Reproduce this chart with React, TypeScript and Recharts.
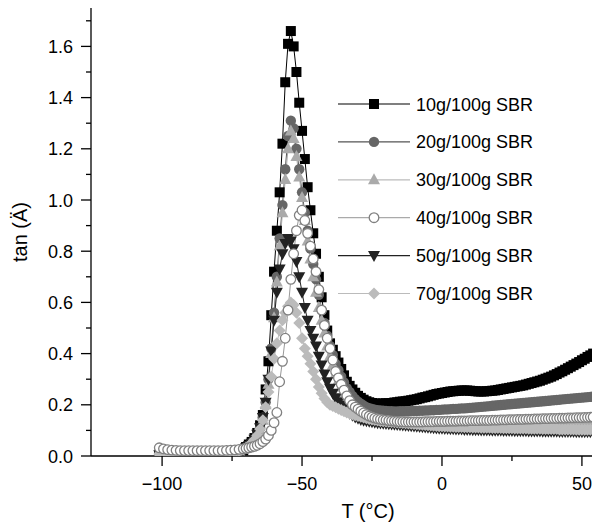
import { LineChart, Line, XAxis, YAxis } from 'recharts';

// temperature grid (°C): 1.5° steps on the glassy plateau, 1° steps from -70 on
const TEMPS = [
  -101, -99.5, -98, -96.5, -95, -93.5, -92, -90.5, -89, -87.5, -86, -84.5, -83, -81.5, -80, -78.5, -77, -75.5, -74, -72.5, -71,
  -70, -69, -68, -67, -66, -65, -64, -63, -62, -61, -60, -59, -58, -57, -56, -55, -54, -53, -52, -51, -50, -49, -48, -47, -46, -45, -44, -43, -42, -41, -40,
  -39, -38, -37, -36, -35, -34, -33, -32, -31, -30,
  -29, -28, -27, -26, -25, -24, -23, -22, -21, -20,
  -19, -18, -17, -16, -15, -14, -13, -12, -11, -10,
  -9, -8, -7, -6, -5, -4, -3, -2, -1, 0,
  1, 2, 3, 4, 5, 6, 7, 8, 9, 10,
  11, 12, 13, 14, 15, 16, 17, 18, 19, 20,
  21, 22, 23, 24, 25, 26, 27, 28, 29, 30,
  31, 32, 33, 34, 35, 36, 37, 38, 39, 40,
  41, 42, 43, 44, 45, 46, 47, 48, 49, 50,
  51, 52, 53, 54,
];

// tan values
const TAN_10 = [
  0.005, 0.005, 0.005, 0.005, 0.005, 0.005, 0.005, 0.005, 0.005, 0.005, 0.005, 0.005, 0.005, 0.005, 0.005, 0.006, 0.007, 0.009, 0.012, 0.016, 0.022,
  0.035, 0.045, 0.055, 0.07, 0.09, 0.12, 0.16, 0.26, 0.37, 0.55, 0.72, 0.88, 1.03, 1.22, 1.46, 1.61, 1.66, 1.6, 1.5, 1.38, 1.27, 1.16, 1.05, 0.96, 0.87, 0.79, 0.7, 0.62, 0.55, 0.49, 0.44,
  0.415, 0.39, 0.365, 0.34, 0.315, 0.29, 0.274, 0.26, 0.247, 0.235,
  0.227, 0.22, 0.214, 0.21, 0.207, 0.205, 0.204, 0.205, 0.205, 0.206,
  0.206, 0.207, 0.209, 0.21, 0.212, 0.213, 0.214, 0.216, 0.218, 0.22,
  0.222, 0.225, 0.228, 0.23, 0.233, 0.236, 0.239, 0.242, 0.244, 0.246,
  0.248, 0.25, 0.252, 0.253, 0.254, 0.255, 0.256, 0.256, 0.256, 0.255,
  0.254, 0.253, 0.252, 0.252, 0.252, 0.253, 0.254, 0.255, 0.256, 0.258,
  0.26, 0.262, 0.264, 0.266, 0.268, 0.27, 0.272, 0.274, 0.276, 0.279,
  0.282, 0.285, 0.288, 0.291, 0.294, 0.298, 0.302, 0.306, 0.31, 0.315,
  0.32, 0.326, 0.331, 0.337, 0.343, 0.349, 0.355, 0.361, 0.367, 0.374,
  0.38, 0.387, 0.393, 0.4,
];
const TAN_20 = [
  0.008, 0.008, 0.008, 0.008, 0.008, 0.008, 0.008, 0.008, 0.008, 0.008, 0.008, 0.008, 0.008, 0.008, 0.008, 0.009, 0.01, 0.012, 0.015, 0.019, 0.025,
  0.033, 0.042, 0.052, 0.066, 0.085, 0.11, 0.15, 0.21, 0.3, 0.42, 0.56, 0.7, 0.85, 0.98, 1.12, 1.25, 1.31, 1.28, 1.2, 1.12, 1.03, 0.95, 0.88, 0.81, 0.75, 0.69, 0.63, 0.57, 0.52, 0.47, 0.43,
  0.395, 0.36, 0.335, 0.31, 0.287, 0.265, 0.25, 0.235, 0.222, 0.212,
  0.204, 0.197, 0.191, 0.187, 0.184, 0.181, 0.179, 0.178, 0.177, 0.176,
  0.175, 0.175, 0.174, 0.174, 0.175, 0.175, 0.175, 0.175, 0.176, 0.176,
  0.176, 0.177, 0.177, 0.178, 0.178, 0.179, 0.179, 0.18, 0.18, 0.181,
  0.182, 0.182, 0.183, 0.184, 0.184, 0.185, 0.186, 0.186, 0.187, 0.188,
  0.189, 0.19, 0.191, 0.192, 0.193, 0.194, 0.195, 0.196, 0.197, 0.198,
  0.199, 0.2, 0.201, 0.202, 0.203, 0.204, 0.205, 0.206, 0.207, 0.208,
  0.209, 0.21, 0.211, 0.212, 0.213, 0.214, 0.215, 0.216, 0.217, 0.218,
  0.219, 0.22, 0.221, 0.222, 0.223, 0.224, 0.225, 0.226, 0.227, 0.228,
  0.229, 0.23, 0.231, 0.232,
];
const TAN_30 = [
  0.01, 0.01, 0.01, 0.01, 0.01, 0.01, 0.01, 0.01, 0.01, 0.01, 0.01, 0.01, 0.01, 0.01, 0.01, 0.011, 0.012, 0.013, 0.016, 0.02, 0.026,
  0.032, 0.04, 0.05, 0.063, 0.08, 0.1, 0.14, 0.2, 0.28, 0.4, 0.54, 0.68, 0.82, 0.95, 1.08, 1.2, 1.27, 1.24, 1.17, 1.09, 1.01, 0.92, 0.84, 0.77, 0.7, 0.64, 0.58, 0.53, 0.48, 0.43, 0.39,
  0.355, 0.32, 0.295, 0.27, 0.248, 0.228, 0.212, 0.198, 0.186, 0.176,
  0.168, 0.161, 0.155, 0.15, 0.146, 0.142, 0.139, 0.137, 0.135, 0.133,
  0.132, 0.131, 0.13, 0.129, 0.129, 0.128, 0.128, 0.127, 0.127, 0.127,
  0.126, 0.126, 0.126, 0.126, 0.126, 0.126, 0.126, 0.126, 0.126, 0.126,
  0.126, 0.126, 0.127, 0.127, 0.127, 0.127, 0.127, 0.127, 0.128, 0.128,
  0.128, 0.128, 0.128, 0.128, 0.129, 0.129, 0.129, 0.129, 0.129, 0.13,
  0.13, 0.13, 0.13, 0.13, 0.131, 0.131, 0.131, 0.131, 0.131, 0.132,
  0.132, 0.132, 0.132, 0.132, 0.133, 0.133, 0.133, 0.133, 0.133, 0.134,
  0.134, 0.134, 0.134, 0.134, 0.135, 0.135, 0.135, 0.135, 0.135, 0.136,
  0.136, 0.136, 0.136, 0.137,
];
const TAN_40 = [
  0.032, 0.028, 0.025, 0.023, 0.022, 0.021, 0.021, 0.021, 0.021, 0.021, 0.021, 0.021, 0.021, 0.021, 0.021, 0.021, 0.022, 0.023, 0.024, 0.026, 0.028,
  0.03, 0.032, 0.035, 0.038, 0.042, 0.048, 0.056, 0.066, 0.08, 0.1, 0.13, 0.17, 0.29, 0.37, 0.46, 0.57, 0.69, 0.79, 0.88, 0.94, 0.96, 0.92, 0.87, 0.82, 0.77, 0.72, 0.65, 0.57, 0.51, 0.46, 0.42,
  0.375, 0.33, 0.305, 0.28, 0.257, 0.235, 0.216, 0.2, 0.191, 0.183,
  0.175, 0.168, 0.162, 0.156, 0.152, 0.148, 0.145, 0.143, 0.141, 0.14,
  0.138, 0.137, 0.136, 0.135, 0.134, 0.134, 0.133, 0.133, 0.133, 0.133,
  0.133, 0.133, 0.133, 0.134, 0.134, 0.134, 0.134, 0.135, 0.135, 0.135,
  0.135, 0.136, 0.136, 0.136, 0.136, 0.137, 0.137, 0.137, 0.137, 0.138,
  0.138, 0.138, 0.138, 0.139, 0.139, 0.139, 0.139, 0.14, 0.14, 0.14,
  0.141, 0.141, 0.141, 0.142, 0.142, 0.142, 0.143, 0.143, 0.143, 0.144,
  0.144, 0.144, 0.145, 0.145, 0.145, 0.146, 0.146, 0.146, 0.147, 0.147,
  0.147, 0.148, 0.148, 0.148, 0.149, 0.149, 0.149, 0.15, 0.15, 0.15,
  0.151, 0.151, 0.152, 0.152,
];
const TAN_50 = [
  0.005, 0.005, 0.005, 0.005, 0.005, 0.005, 0.005, 0.005, 0.005, 0.005, 0.005, 0.005, 0.005, 0.005, 0.005, 0.006, 0.007, 0.009, 0.012, 0.017, 0.024,
  0.032, 0.04, 0.05, 0.065, 0.085, 0.11, 0.15, 0.21, 0.3, 0.41, 0.53, 0.64, 0.73, 0.79, 0.83, 0.85, 0.84, 0.81, 0.76, 0.7, 0.64, 0.58, 0.53, 0.49, 0.46, 0.43, 0.39, 0.355, 0.32, 0.29, 0.265,
  0.245, 0.228, 0.212, 0.198, 0.186, 0.176, 0.167, 0.159, 0.152, 0.147,
  0.143, 0.14, 0.138, 0.136, 0.134, 0.132, 0.13, 0.129, 0.128, 0.127,
  0.126, 0.125, 0.124, 0.123, 0.122, 0.121, 0.12, 0.119, 0.118, 0.117,
  0.116, 0.115, 0.114, 0.113, 0.112, 0.111, 0.11, 0.109, 0.108, 0.108,
  0.107, 0.107, 0.106, 0.106, 0.105, 0.105, 0.105, 0.104, 0.104, 0.104,
  0.103, 0.103, 0.103, 0.102, 0.102, 0.102, 0.102, 0.101, 0.101, 0.101,
  0.101, 0.1, 0.1, 0.1, 0.1, 0.099, 0.099, 0.099, 0.099, 0.099,
  0.098, 0.098, 0.098, 0.098, 0.098, 0.097, 0.097, 0.097, 0.097, 0.097,
  0.097, 0.096, 0.096, 0.096, 0.096, 0.096, 0.096, 0.095, 0.095, 0.095,
  0.095, 0.095, 0.095, 0.094,
];
const TAN_70 = [
  0.008, 0.008, 0.008, 0.008, 0.008, 0.008, 0.008, 0.008, 0.008, 0.008, 0.008, 0.008, 0.008, 0.008, 0.008, 0.009, 0.01, 0.012, 0.015, 0.019, 0.025,
  0.032, 0.04, 0.05, 0.063, 0.08, 0.105, 0.14, 0.19, 0.25, 0.31, 0.38, 0.44, 0.49, 0.53, 0.56, 0.585, 0.6, 0.59, 0.56, 0.52, 0.46, 0.42, 0.39, 0.36, 0.33, 0.3, 0.27, 0.245, 0.225, 0.21, 0.2,
  0.195, 0.19, 0.185, 0.18, 0.175, 0.17, 0.166, 0.162, 0.159, 0.156,
  0.153, 0.15, 0.147, 0.145, 0.143, 0.141, 0.139, 0.137, 0.136, 0.135,
  0.134, 0.133, 0.132, 0.131, 0.13, 0.129, 0.128, 0.127, 0.126, 0.125,
  0.124, 0.123, 0.122, 0.121, 0.12, 0.119, 0.118, 0.117, 0.116, 0.116,
  0.115, 0.115, 0.114, 0.114, 0.113, 0.113, 0.113, 0.112, 0.112, 0.112,
  0.111, 0.111, 0.111, 0.11, 0.11, 0.11, 0.11, 0.109, 0.109, 0.109,
  0.109, 0.108, 0.108, 0.108, 0.108, 0.107, 0.107, 0.107, 0.107, 0.107,
  0.106, 0.106, 0.106, 0.106, 0.106, 0.105, 0.105, 0.105, 0.105, 0.105,
  0.105, 0.104, 0.104, 0.104, 0.104, 0.104, 0.104, 0.103, 0.103, 0.103,
  0.103, 0.103, 0.103, 0.102,
];

const X_TICKS = [-100, -75, -50, -25, 0, 25, 50];
const Y_TICKS = [0, 0.1, 0.2, 0.3, 0.4, 0.5, 0.6, 0.7, 0.8, 0.9, 1.0, 1.1, 1.2, 1.3, 1.4, 1.5, 1.6, 1.7];

const FONT = '"Liberation Sans", Arial, sans-serif';

// legend order
const SERIES = [
  { key: 's10', name: '10g/100g SBR', values: TAN_10, line: '#000', shape: 'square', fill: '#000', legendLine: '#000' },
  { key: 's20', name: '20g/100g SBR', values: TAN_20, line: '#555', shape: 'circle', fill: '#666', legendLine: '#555' },
  { key: 's30', name: '30g/100g SBR', values: TAN_30, line: '#aaa', shape: 'triangle', fill: '#aaa', legendLine: '#bbb' },
  { key: 's40', name: '40g/100g SBR', values: TAN_40, line: '#999', shape: 'open', fill: '#fff', legendLine: '#aaa' },
  { key: 's50', name: '50g/100g SBR', values: TAN_50, line: '#222', shape: 'down', fill: '#222', legendLine: '#222' },
  { key: 's70', name: '70g/100g SBR', values: TAN_70, line: '#bbb', shape: 'diamond', fill: '#bbb', legendLine: '#bbb' },
];
// open circles sit on top of everything else
const DRAW_ORDER = ['s10', 's20', 's30', 's50', 's70', 's40'];

const data = TEMPS.map((t, i) => {
  const row: any = { T: t };
  SERIES.forEach((s) => { row[s.key] = s.values[i]; });
  return row;
});

const Marker = ({ shape, cx, cy, fill }: any) => {
  if (cx == null || cy == null) return null;
  switch (shape) {
    case 'square':
      return <rect x={cx - 5} y={cy - 5} width={10} height={10} fill={fill} />;
    case 'circle':
      return <circle cx={cx} cy={cy} r={5.2} fill={fill} />;
    case 'triangle':
      return <polygon points={`${cx},${cy - 6.5} ${cx + 6},${cy + 4.5} ${cx - 6},${cy + 4.5}`} fill={fill} />;
    case 'open':
      return <circle cx={cx} cy={cy} r={4.8} fill="#fff" stroke="#808080" strokeWidth={1.3} />;
    case 'down':
      return <polygon points={`${cx - 6},${cy - 4.5} ${cx + 6},${cy - 4.5} ${cx},${cy + 6.5}`} fill={fill} />;
    case 'diamond':
      return <polygon points={`${cx},${cy - 6} ${cx + 6},${cy} ${cx},${cy + 6} ${cx - 6},${cy}`} fill={fill} />;
    default:
      return null;
  }
};

const XTick = ({ x, y, payload }: any) => {
  const v = payload.value;
  const major = v % 50 === 0;
  const label = v < 0 ? `\u2212${Math.abs(v)}` : `${v}`;
  return (
    <g>
      <line x1={x} y1={y} x2={x} y2={y + (major ? 10 : 5)} stroke="#000" strokeWidth={1.3} />
      {major && (
        <text x={x} y={y + 34} textAnchor="middle" fontSize={18} fontFamily={FONT} fill="#000">
          {label}
        </text>
      )}
    </g>
  );
};

const YTick = ({ x, y, payload }: any) => {
  const v = payload.value;
  const step = Math.round(v * 10);
  const major = step % 2 === 0 && step <= 16;
  return (
    <g>
      <line x1={x} y1={y} x2={x - (major ? 10 : 5)} y2={y} stroke="#000" strokeWidth={1.3} />
      {major && (
        <text x={x - 18} y={y + 6.5} textAnchor="end" fontSize={18} fontFamily={FONT} fill="#000">
          {v.toFixed(1)}
        </text>
      )}
    </g>
  );
};

const XTitle = ({ viewBox }: any) => (
  <text x={viewBox.x + 277} y={viewBox.y + 62} textAnchor="middle" fontSize={20} fontFamily={FONT} fill="#000">
    T (°C)
  </text>
);

const YTitle = ({ viewBox }: any) => {
  const cx = 20;
  const cy = viewBox.y + viewBox.height / 2;
  return (
    <text x={cx} y={cy} transform={`rotate(-90, ${cx}, ${cy})`} textAnchor="middle" dominantBaseline="central" fontSize={20} fontFamily={FONT} fill="#000">
      tan (Ä)
    </text>
  );
};

const LegendBox = () => (
  <svg width={592} height={526} style={{ position: 'absolute', left: 0, top: 0, pointerEvents: 'none' }}>
    {SERIES.map((s, i) => {
      const y = 104 + i * 37.9;
      return (
        <g key={s.key}>
          <line x1={338} y1={y} x2={410} y2={y} stroke={s.legendLine} strokeWidth={1.2} />
          <Marker shape={s.shape} cx={374} cy={y} fill={s.fill} />
          <text x={416} y={y + 6.5} fontSize={18} fontFamily={FONT} fill="#000">
            {s.name}
          </text>
        </g>
      );
    })}
  </svg>
);

export default function App() {
  const ordered = DRAW_ORDER.map((k) => SERIES.find((s) => s.key === k)!);
  return (
    <div style={{ position: 'absolute', left: 0, top: 0, width: 592, height: 526, background: '#fff', overflow: 'hidden' }}>
      <LineChart width={592} height={526} data={data} margin={{ top: 8, right: 0, bottom: 0, left: 0 }}>
        <XAxis
          type="number"
          dataKey="T"
          domain={[-125.4, 53.6]}
          allowDataOverflow
          ticks={X_TICKS}
          interval={0}
          height={70}
          tickLine={false}
          tickSize={0}
          tickMargin={0}
          axisLine={{ stroke: '#000', strokeWidth: 1.3 }}
          tick={(p: any) => <XTick {...p} />}
          label={(p: any) => <XTitle {...p} />}
        />
        <YAxis
          type="number"
          domain={[0, 1.75]}
          allowDataOverflow
          ticks={Y_TICKS}
          interval={0}
          width={91}
          tickLine={false}
          tickSize={0}
          tickMargin={0}
          axisLine={{ stroke: '#000', strokeWidth: 1.3 }}
          tick={(p: any) => <YTick {...p} />}
          label={(p: any) => <YTitle {...p} />}
        />
        {ordered.map((s) => (
          <Line
            key={s.key}
            dataKey={s.key}
            name={s.name}
            type="linear"
            stroke={s.line}
            strokeWidth={1}
            isAnimationActive={false}
            activeDot={false}
            dot={(p: any) => <Marker key={`${s.key}-${p.index}`} shape={s.shape} cx={p.cx} cy={p.cy} fill={s.fill} />}
          />
        ))}
      </LineChart>
      <LegendBox />
    </div>
  );
}
